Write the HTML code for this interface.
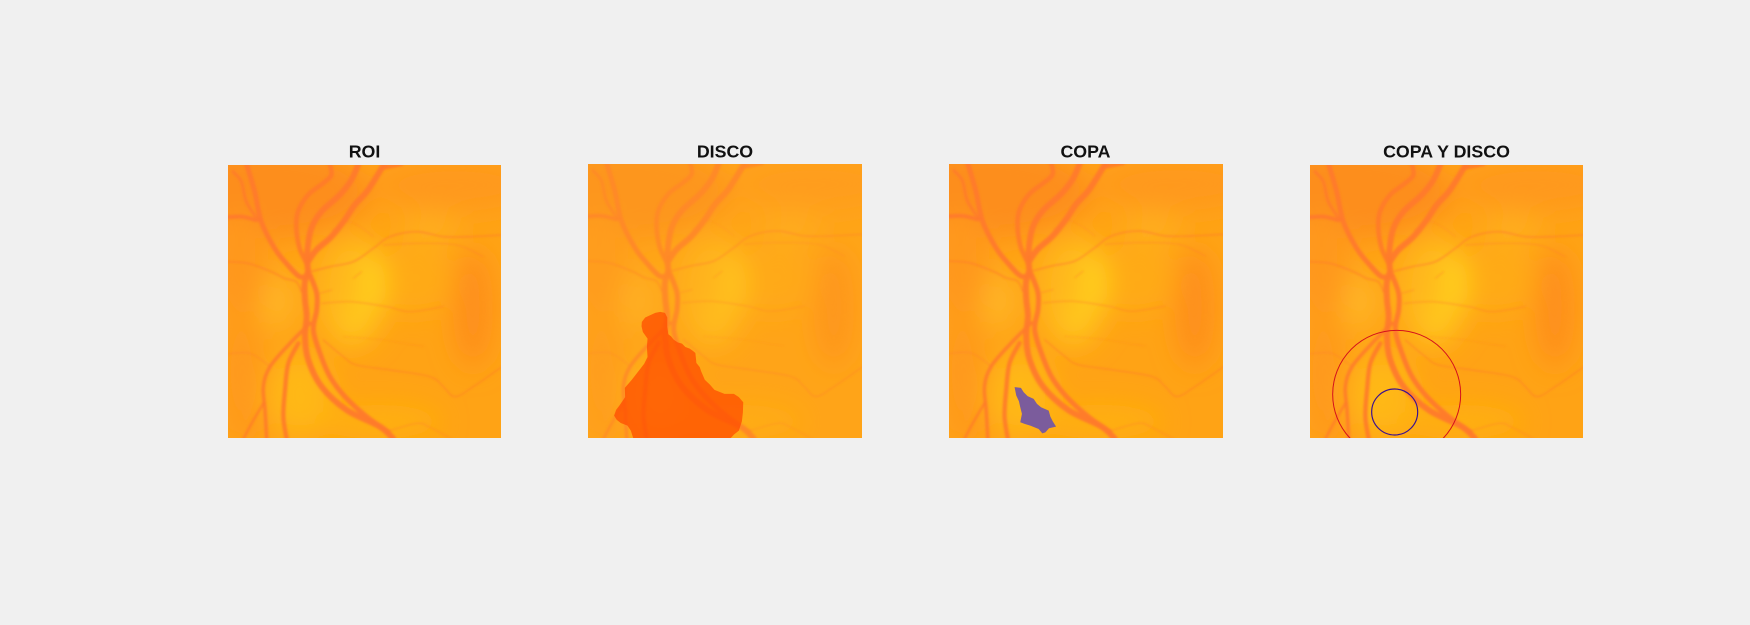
<!DOCTYPE html>
<html lang="es">
<head>
<meta charset="utf-8">
<title>ROI, DISCO, COPA</title>
<style>
html,body{margin:0;padding:0;background:#f0f0f0;width:1750px;height:625px;overflow:hidden}
svg{display:block}
text{font-family:"Liberation Sans",Arial,sans-serif;font-weight:bold;font-size:17.8px;fill:#111;text-anchor:middle}
</style>
</head>
<body>
<svg xmlns="http://www.w3.org/2000/svg" width="1750" height="625" viewBox="0 0 1750 625">
<defs>
<filter id="soft" filterUnits="userSpaceOnUse" x="-200" y="-200" width="1300" height="1300"><feGaussianBlur stdDeviation="40"/></filter>
<filter id="vein" filterUnits="userSpaceOnUse" x="-100" y="-100" width="1100" height="1100"><feGaussianBlur stdDeviation="3.2"/></filter>
<g id="fundus">
<rect x="0" y="0" width="819" height="819" fill="#ffa315"/>
<g filter="url(#soft)">
<ellipse cx="130" cy="80" rx="300" ry="140" fill="#fd8e1e"/>
<ellipse cx="30" cy="300" rx="90" ry="160" fill="#ff981a"/>
<ellipse cx="40" cy="620" rx="70" ry="180" fill="#ff9a1a"/>
<ellipse cx="680" cy="60" rx="240" ry="80" fill="#ff991c"/>
<ellipse cx="610" cy="190" rx="90" ry="50" fill="#ffae1c"/>
<ellipse cx="735" cy="430" rx="60" ry="180" fill="#fe8f1c"/>
<ellipse cx="560" cy="340" rx="120" ry="110" fill="#ffaa18"/>
<ellipse cx="370" cy="380" rx="105" ry="170" fill="#ffb81a"/>
<ellipse cx="435" cy="350" rx="32" ry="95" fill="#ffd61c"/>
<ellipse cx="385" cy="470" rx="42" ry="55" fill="#ffca1c"/>
<ellipse cx="150" cy="410" rx="48" ry="90" fill="#ffb628"/>
<ellipse cx="215" cy="690" rx="100" ry="125" fill="#ffb812"/>
<ellipse cx="450" cy="770" rx="190" ry="50" fill="#ffb010"/>
<ellipse cx="60" cy="790" rx="60" ry="40" fill="#ff981a"/>
</g>
<g id="vessels" fill="none" stroke="#ff7a2a" stroke-linecap="round" stroke-linejoin="round" filter="url(#vein)"></g>
</g>
</defs>

<text x="364.5" y="157.5">ROI</text>
<svg x="228" y="165" width="273" height="273" viewBox="0 0 819 819">
<use href="#fundus"/>
</svg>

<text x="725" y="157.5">DISCO</text>
<svg x="588" y="164" width="274" height="274" viewBox="0 0 819 819">
<use href="#fundus"/>
<rect x="0" y="0" width="819" height="819" fill="#ffa820" fill-opacity="0.32"/>
<polygon transform="translate(-54,-103)" fill="#ff4c00" fill-opacity="0.75"
 points="215,575 225,562 238,556 255,548 270,545 284,548 291,562 291,590 294,612 302,618 310,628 322,636 335,640 345,650 358,655 368,662 375,668 378,698 388,710 392,722 403,748 418,762 432,778 462,790 490,790 505,800 518,815 517,845 514,872 505,900 490,912 478,925 190,925 182,900 172,885 152,877 140,868 132,855 138,838 148,825 165,800 164,772 185,748 205,722 222,700 232,680 230,650 232,625 218,605 214,588"/>
</svg>

<text x="1085.5" y="157.5">COPA</text>
<svg x="949" y="164" width="274" height="274" viewBox="0 0 819 819">
<use href="#fundus"/>
<polygon transform="translate(-57,-103)" fill="#7b5c9c"
 points="253,770 272,772 280,785 292,797 310,805 320,820 332,830 355,840 360,858 367,872 377,888 356,893 345,905 336,908 325,895 300,885 284,880 270,875 275,850 270,830 266,812 258,795"/>
</svg>

<text x="1446.5" y="157.5">COPA Y DISCO</text>
<svg x="1310" y="165" width="273" height="273" viewBox="0 0 819 819">
<use href="#fundus"/>
<circle cx="260" cy="688" r="192" fill="none" stroke="#d4101c" stroke-width="3"/>
<circle cx="254" cy="741" r="69" fill="none" stroke="#3a1090" stroke-width="3.5"/>
</svg>
</svg>
<script>
const vesselWidths = [14, 18, 18, 13, 15, 10, 12, 5, 18, 15, 11, 13, 8, 4, 3, 3, 3.5, 2.5, 3, 3, 3, 3, 3];
const vesselOpacity = [.9, .95, .95, .9, .95, .8, .95, .6, .95, .95, .85, .9, .75, .7, .5, .6, .65, .35, .5, .5, .5, .5, .35];
const vesselPoints = [
[[305,-5],[310,30],[285,55],[240,90],[210,140],[205,190],[215,250],[235,295],[242,325]],
[[392,-5],[370,45],[335,90],[280,140],[250,190],[238,260],[240,320]],
[[470,-5],[420,75],[380,120],[350,165],[310,215],[265,255],[240,290]],
[[460,10],[490,3],[520,-3]],
[[55,-5],[80,80],[100,170],[140,250],[175,295],[215,335],[245,330]],
[[15,20],[40,50],[55,110],[90,165]],
[[-5,157],[40,155],[85,165]],
[[-5,290],[60,295],[130,320],[170,340],[205,350],[220,380]],
[[240,320],[230,355],[231,405],[236,455],[231,515],[241,585],[281,665],[356,735],[456,785],[496,822]],
[[246,330],[266,385],[266,435],[256,495],[276,565],[306,635],[351,695],[416,755],[480,800]],
[[246,475],[186,535],[126,605],[106,665],[111,735],[116,822]],
[[211,535],[181,595],[171,675],[166,755],[176,822]],
[[106,715],[71,775],[46,822]],
[[248,320],[306,305],[376,290],[436,250],[486,215],[566,200],[646,215],[726,215],[822,210]],
[[466,240],[566,235],[686,240],[766,275]],
[[281,415],[366,410],[476,425],[546,440],[646,425]],
[[286,525],[346,575],[386,600],[486,615],[606,635],[646,665],[681,695],[736,665],[822,605]],
[[346,515],[466,525],[586,545]],
[[-5,567],[66,565],[126,605]],
[[476,800],[566,775],[606,787],[671,822]],
[[376,340],[401,320]],
[[276,385],[311,375]],
[[311,195],[356,170],[396,185],[436,215]]
];
const vesselGroup = document.getElementById('vessels');
function smoothPath(p) {
  let d = 'M' + p[0][0] + ' ' + p[0][1];
  for (let i = 0; i < p.length - 1; i++) {
    const a = p[Math.max(i - 1, 0)], b = p[i], c = p[i + 1], e = p[Math.min(i + 2, p.length - 1)];
    d += 'C' + (b[0] + (c[0] - a[0]) / 6) + ' ' + (b[1] + (c[1] - a[1]) / 6) + ' ' +
         (c[0] - (e[0] - b[0]) / 6) + ' ' + (c[1] - (e[1] - b[1]) / 6) + ' ' + c[0] + ' ' + c[1];
  }
  return d;
}
vesselPoints.forEach(function (pts, i) {
  const el = document.createElementNS('http://www.w3.org/2000/svg', 'path');
  el.setAttribute('d', smoothPath(pts));
  el.setAttribute('stroke-width', vesselWidths[i]);
  el.setAttribute('stroke-opacity', vesselOpacity[i]);
  
  
  vesselGroup.appendChild(el);
});
</script>
</body>
</html>
